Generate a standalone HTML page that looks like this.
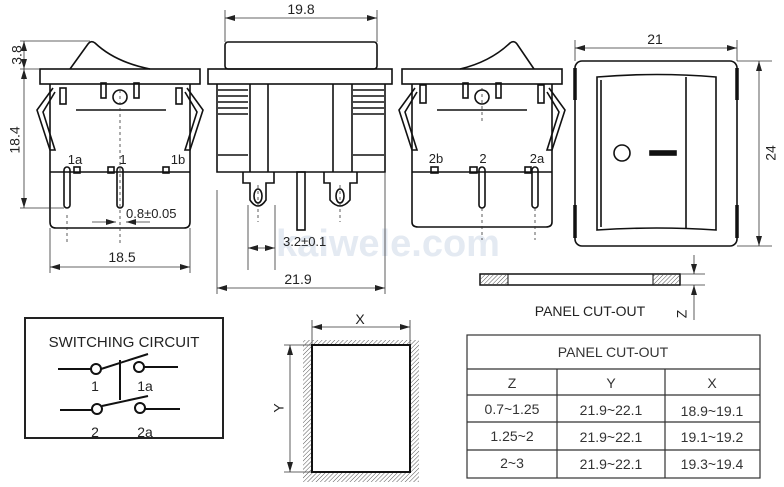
<!DOCTYPE html>
<html><head><meta charset="utf-8"><style>
html,body{margin:0;padding:0;background:#fff;}
svg{display:block;font-family:"Liberation Sans",sans-serif;}
</style></head><body>
<svg width="784" height="487" viewBox="0 0 784 487" xmlns="http://www.w3.org/2000/svg">
<defs>
<marker id="a" viewBox="0 0 10 6" refX="10" refY="3" markerWidth="10" markerHeight="6" orient="auto-start-reverse" markerUnits="userSpaceOnUse"><path d="M0,0L10,3L0,6Z" fill="#222"/></marker>
<pattern id="h" width="3" height="3" patternUnits="userSpaceOnUse" patternTransform="rotate(45)"><line x1="0" y1="0" x2="0" y2="3" stroke="#555" stroke-width="1"/></pattern>
</defs>
<text x="388" y="256" font-size="38" fill="#e4eaf2" text-anchor="middle" font-weight="bold">kaiwele.com</text>
<g fill="none" stroke="#111" stroke-width="1.6">
<!-- view 1 -->
<path d="M70,69 L88,44 Q91,40 95,43 Q115,62 150,69"/>
<rect x="40" y="69" width="160" height="15"/>
<path d="M50,84 V172 M190,84 V172"/>
<path d="M50,172 H190 M50,172 V222 Q50,228 56,228 H184 Q190,228 190,222 V172"/>
<path d="M53,88 L37,110 L50,150 L55,150 L43,112 L55,92 M187,88 L203,110 L190,150 L185,150 L197,112 L185,92"/>
<rect x="60" y="88" width="6" height="16"/><rect x="101" y="83" width="5" height="15"/><rect x="134" y="83" width="5" height="15"/><rect x="176" y="88" width="6" height="16"/>
<circle cx="120" cy="97" r="7"/>
<line x1="76" y1="110" x2="166" y2="110"/>
<rect x="64" y="167" width="6" height="41" rx="3"/><rect x="117" y="167" width="6" height="41" rx="3"/>
<rect x="74" y="167" width="6" height="6"/><rect x="108" y="167" width="6" height="6"/><rect x="163" y="167" width="6" height="6"/>
<!-- view 2 -->
<rect x="225" y="42" width="152" height="27" rx="3"/>
<rect x="208" y="69" width="184" height="15"/>
<path d="M217,84 V172 H385 V84 M250,84 V172 M268,84 V172 M333,84 V172 M352,84 V172"/>
<path d="M218,90H248M218,96H248M218,102H248M218,108H248M218,114H248M353,90H384M353,96H384M353,102H384M353,108H384M353,114H384"/>
<path d="M218,155H248M353,155H384"/>
<path d="M243,172V183H250V200Q258,212 266,200V183H274V172 M324,172V183H330V200Q340,212 350,200V183H357V172"/>
<ellipse cx="258" cy="196" rx="4" ry="7"/><ellipse cx="340" cy="196" rx="4" ry="7"/>
<rect x="297" y="172" width="8" height="58"/>
<!-- view 3 -->
<path d="M460,69 Q490,62 510,43 Q514,40 517,44 L534,69"/>
<rect x="402" y="69" width="160" height="15"/>
<path d="M412,84 V172 M552,84 V172 M412,172 H552 M412,172 V222 Q412,227 418,227 H546 Q552,227 552,222 V172"/>
<path d="M415,88 L399,110 L412,150 L417,150 L405,112 L417,92 M549,88 L565,110 L552,150 L547,150 L559,112 L547,92"/>
<rect x="420" y="85" width="6" height="18"/><rect x="463" y="83" width="5" height="15"/><rect x="496" y="83" width="5" height="15"/><rect x="538" y="85" width="6" height="18"/>
<circle cx="482" cy="97" r="7"/>
<line x1="437" y1="110" x2="527" y2="110"/>
<rect x="479" y="167" width="6" height="41" rx="3"/><rect x="532" y="167" width="6" height="41" rx="3"/>
<rect x="431" y="167" width="7" height="6"/><rect x="470" y="167" width="7" height="6"/><rect x="525" y="167" width="6" height="6"/>
<!-- view 4 -->
<rect x="575" y="61" width="162" height="185" rx="7"/>
<path d="M597,77 Q657,72 716,77 V230 Q657,226 597,230 Z"/>
<path d="M601,80 V227 M686,77 V229"/>
<circle cx="622" cy="153" r="8"/>
<rect x="650" y="151" width="26" height="4" fill="#111"/>
</g>
<g stroke="#111" stroke-width="3.5"><path d="M575,68V100M575,205V238M737,68V100M737,205V238"/></g>
<!-- panel piece -->
<rect x="480" y="274" width="200" height="11" fill="none" stroke="#111" stroke-width="1.5"/>
<rect x="481" y="275" width="27" height="9" fill="url(#h)"/><rect x="653" y="275" width="26" height="9" fill="url(#h)"/>
<line x1="508" y1="274" x2="508" y2="285" stroke="#111"/><line x1="653" y1="274" x2="653" y2="285" stroke="#111"/>
<!-- dims & centerlines -->
<g stroke="#333" stroke-width="0.8" fill="none">
<path d="M20,41H90M20,69H40M20,208H64M50,228V273M190,228V273M217,190V294M385,172V294M225,10V42M377,10V42M248,205V270M275,205V270M575,40V61M737,40V61M737,61H772M737,246H772M680,274H705M680,285H705M312,320V345M410,320V345M284,345H312M284,472H312"/>
<path d="M67,215V245M120,90V245M258,185V222M340,185V222M482,88V122M535,208V240M482,208V240" stroke-dasharray="3,3"/>
<g marker-start="url(#a)" marker-end="url(#a)">
<path d="M24,41V69"/><path d="M24,69V208"/><path d="M50,267H190"/><path d="M225,18H377"/><path d="M217,288H385"/><path d="M248,248H275"/><path d="M575,48H737"/><path d="M759,61V246"/><path d="M312,327H410"/><path d="M290,345V472"/>
</g>
<path d="M694,255V274" marker-end="url(#a)"/><path d="M694,320V285" marker-end="url(#a)"/>
<path d="M92,222H116" marker-end="url(#a)"/><path d="M150,222H126" marker-end="url(#a)"/>
</g>
<g font-size="14" fill="#222">
<text x="122" y="262" text-anchor="middle">18.5</text>
<text x="298" y="284" text-anchor="middle">21.9</text>
<text x="301" y="14" text-anchor="middle">19.8</text>
<text x="655" y="44" text-anchor="middle">21</text>
<text x="18" y="55" text-anchor="middle" transform="rotate(-90 18 55)" dominant-baseline="middle">3.8</text>
<text x="16" y="140" text-anchor="middle" transform="rotate(-90 16 140)" dominant-baseline="middle">18.4</text>
<text x="772" y="153" text-anchor="middle" transform="rotate(-90 772 153)" dominant-baseline="middle">24</text>
<text x="683" y="314" text-anchor="middle" transform="rotate(-90 683 314)" dominant-baseline="middle">Z</text>
<text x="280" y="408" text-anchor="middle" transform="rotate(-90 280 408)" dominant-baseline="middle">Y</text>
<text x="360" y="324" text-anchor="middle">X</text>
<text x="126" y="218" font-size="13">0.8±0.05</text>
<text x="283" y="246" font-size="13">3.2±0.1</text>
<text x="75" y="164" text-anchor="middle" font-size="13">1a</text><text x="123" y="164" text-anchor="middle" font-size="13">1</text><text x="178" y="164" text-anchor="middle" font-size="13">1b</text>
<text x="436" y="163" text-anchor="middle" font-size="13">2b</text><text x="483" y="163" text-anchor="middle" font-size="13">2</text><text x="537" y="163" text-anchor="middle" font-size="13">2a</text>
<text x="590" y="316" text-anchor="middle">PANEL CUT-OUT</text>
</g>
<!-- switching circuit -->
<rect x="25" y="318" width="198" height="120" fill="none" stroke="#222" stroke-width="2"/>
<text x="124" y="347" font-size="15" text-anchor="middle" fill="#222">SWITCHING CIRCUIT</text>
<g stroke="#111" stroke-width="2" fill="none">
<path d="M58,369H91M101,369L148,354M144,367H178M120,360V400M60,410H92M102,406L148,396M145,409H180"/>
<circle cx="96" cy="369" r="5"/><circle cx="139" cy="367" r="5"/><circle cx="97" cy="409" r="5"/><circle cx="140" cy="408" r="5"/>
</g>
<g font-size="14" fill="#222" text-anchor="middle"><text x="95" y="391">1</text><text x="145" y="391">1a</text><text x="95" y="437">2</text><text x="145" y="437">2a</text></g>
<!-- cutout -->
<path d="M303,340H419V482H303Z M312,345V472H410V345Z" fill="url(#h)" fill-rule="evenodd"/>
<rect x="312" y="345" width="98" height="127" fill="#fff" stroke="#111" stroke-width="2"/>
<!-- table -->
<g stroke="#333" stroke-width="1.2" fill="none">
<rect x="467" y="335" width="293" height="143"/>
<path d="M467,369H760M467,395H760M467,422H760M467,450H760M557,369V478M665,369V478"/>
</g>
<g font-size="14" fill="#333" text-anchor="middle">
<text x="613" y="357">PANEL CUT-OUT</text>
<text x="512" y="388">Z</text><text x="611" y="388">Y</text><text x="712" y="388">X</text>
<text x="512" y="414">0.7~1.25</text><text x="611" y="415">21.9~22.1</text><text x="712" y="416">18.9~19.1</text>
<text x="512" y="441">1.25~2</text><text x="611" y="442">21.9~22.1</text><text x="712" y="442">19.1~19.2</text>
<text x="512" y="468">2~3</text><text x="611" y="469">21.9~22.1</text><text x="712" y="469">19.3~19.4</text>
</g>
</svg>
</body></html>
